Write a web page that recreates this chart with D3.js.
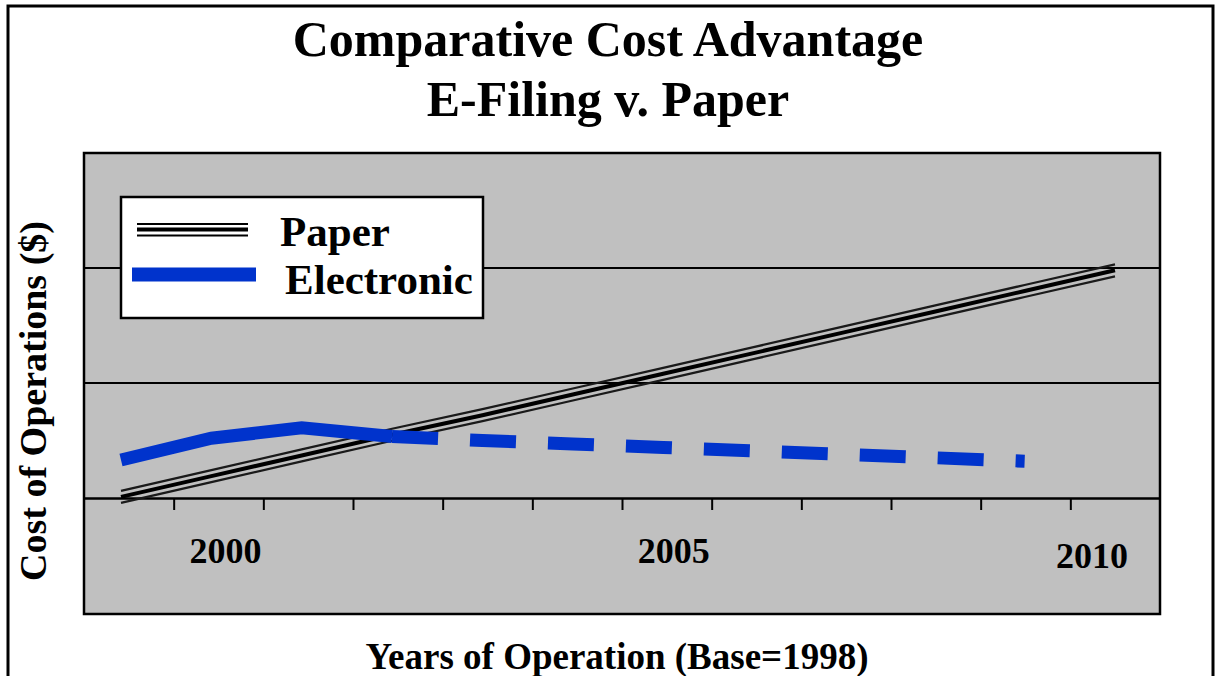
<!DOCTYPE html>
<html>
<head>
<meta charset="utf-8">
<script src="https://cdn.jsdelivr.net/npm/d3@7"></script>
<style>
  html, body { margin: 0; padding: 0; background: #ffffff; }
  svg { display: block; }
  text { font-family: "Liberation Serif", "Times New Roman", Times, serif; font-weight: bold; fill: #000; }
</style>
</head>
<body>
<svg id="chart" width="1217" height="676"></svg>
<script>
// ---------------- data ----------------
const years = [1999, 2000, 2001, 2002, 2003, 2004, 2005, 2006, 2007, 2008, 2009, 2010];
const tickLabels = ["", "2000", "", "", "", "", "2005", "", "", "", "", "2010"];
const paperValues = [0.01, 0.19, 0.37, 0.55, 0.72, 0.90, 1.08, 1.26, 1.44, 1.62, 1.80, 1.98];
const electronicYears = [1999, 2000, 2001, 2002, 2003, 2004, 2005, 2006, 2007, 2008, 2009];
const electronicValues = [0.33, 0.52, 0.61, 0.535, 0.50, 0.47, 0.44, 0.41, 0.38, 0.35, 0.32];
const electronicSolidUntil = 2002;
const seriesNames = ["Paper", "Electronic"];
const gridValues = [1, 2];
const titleLines = ["Comparative Cost Advantage", "E-Filing v. Paper"];
const xTitle = "Years of Operation (Base=1998)";
const yTitle = "Cost of Operations ($)";

// ---------------- layout ----------------
const W = 1217, H = 676;
const plot = { left: 84, right: 1160, top: 153, bottom: 614 };
const axisY0 = 498;
const blue = "#0033cc";
const grey = "#c0c0c0";

const svg = d3.select("#chart");

// outer frame
svg.append("rect")
  .attr("x", 8).attr("y", 6).attr("width", 1205).attr("height", 690)
  .attr("fill", "#fff").attr("stroke", "#000").attr("stroke-width", 3);

// title
svg.append("g").selectAll("text").data(titleLines).join("text")
  .attr("x", 608).attr("y", (d, i) => 56 + i * 60)
  .attr("text-anchor", "middle").attr("font-size", 50)
  .text(d => d);

// plot background
svg.append("rect")
  .attr("x", plot.left).attr("y", plot.top)
  .attr("width", plot.right - plot.left).attr("height", plot.bottom - plot.top)
  .attr("fill", grey).attr("stroke", "#000").attr("stroke-width", 2.5);

// scales
const y = d3.scaleLinear().domain([0, 3]).range([axisY0, plot.top]);
const xBand = d3.scaleBand().domain(years).range([plot.left, plot.right]).padding(0);
const xEdge = d3.scaleLinear().domain([0, years.length]).range([plot.left, plot.right]);
const xLine = d3.scaleLinear().domain([years[0], years[years.length - 1]]).range([121, 1115]);

// gridlines
svg.append("g").selectAll("line").data(gridValues).join("line")
  .attr("x1", plot.left).attr("x2", plot.right)
  .attr("y1", d => y(d)).attr("y2", d => y(d))
  .attr("stroke", "#000").attr("stroke-width", 2);

// x axis (line + ticks at category boundaries)
const axisG = svg.append("g").attr("transform", `translate(0,${axisY0})`)
  .call(d3.axisBottom(xEdge).tickValues(d3.range(1, years.length)).tickSize(12).tickSizeOuter(0).tickFormat(""));
axisG.select(".domain").attr("stroke", "#000").attr("stroke-width", 2.5);
axisG.selectAll(".tick line").attr("stroke", "#000").attr("stroke-width", 2);

// x tick labels (category centres)
const labG = svg.append("g").attr("transform", `translate(0,${axisY0})`)
  .call(d3.axisBottom(xBand).tickSize(0).tickFormat((d, i) => tickLabels[i]));
labG.select(".domain").remove();
labG.selectAll(".tick text")
  .attr("font-size", 36).attr("font-family", null).attr("fill", "#000")
  .attr("y", 65).attr("dy", 0).attr("dx", 7)
  .each(function () {
    const t = d3.select(this);
    const parentX = +this.parentNode.getAttribute("transform").match(/translate\(([^,]+)/)[1];
    const w = this.getComputedTextLength();
    const limit = plot.right - 32;
    if (parentX + 7 + w / 2 > limit) {
      t.attr("dx", limit - w / 2 - parentX).attr("y", 70);
    }
  });

// axis titles
svg.append("text")
  .attr("x", 617).attr("y", 669).attr("text-anchor", "middle").attr("font-size", 37)
  .text(xTitle);
svg.append("text")
  .attr("transform", "translate(46,401) rotate(-90)")
  .attr("text-anchor", "middle").attr("font-size", 38)
  .text(yTitle);

// ---------------- series ----------------
const paperData = years.map((yr, i) => ({ yr, v: paperValues[i] }));
const paperG = svg.append("g");
const strands = [
  { off: -6, w: 2.3, c: "#1a1a1a" },
  { off: 6, w: 2.3, c: "#1a1a1a" },
  { off: 0, w: 4, c: "#000" }
];
strands.forEach(s => {
  paperG.append("path").datum(paperData)
    .attr("fill", "none").attr("stroke", s.c).attr("stroke-width", s.w)
    .attr("d", d3.line().x(d => xLine(d.yr)).y(d => y(d.v) + s.off));
});

const elecData = electronicYears.map((yr, i) => ({ yr, v: electronicValues[i] }));
const eLine = d3.line().x(d => xLine(d.yr)).y(d => y(d.v));
svg.append("path").datum(elecData.filter(d => d.yr <= electronicSolidUntil))
  .attr("fill", "none").attr("stroke", blue).attr("stroke-width", 13)
  .attr("stroke-linejoin", "miter").attr("stroke-linecap", "butt")
  .attr("d", eLine);
svg.append("path").datum(elecData.filter(d => d.yr >= electronicSolidUntil))
  .attr("fill", "none").attr("stroke", blue).attr("stroke-width", 13)
  .attr("stroke-dasharray", "46,32").attr("stroke-linecap", "butt")
  .attr("d", eLine);

// ---------------- legend ----------------
const lg = svg.append("g");
lg.append("rect").attr("x", 121).attr("y", 197).attr("width", 362).attr("height", 121)
  .attr("fill", "#fff").attr("stroke", "#000").attr("stroke-width", 2.5);
[{ dy: -5.5, w: 1.8 }, { dy: 0, w: 3.8 }, { dy: 6, w: 2.2 }].forEach(s => {
  lg.append("line").attr("x1", 137).attr("x2", 248)
    .attr("y1", 229.5 + s.dy).attr("y2", 229.5 + s.dy)
    .attr("stroke", "#000").attr("stroke-width", s.w);
});
lg.append("line").attr("x1", 132).attr("x2", 256).attr("y1", 274.5).attr("y2", 274.5)
  .attr("stroke", blue).attr("stroke-width", 14);
lg.append("text").attr("x", 280).attr("y", 246).attr("font-size", 43).text(seriesNames[0]);
lg.append("text").attr("x", 285).attr("y", 294).attr("font-size", 43).text(seriesNames[1]);
</script>
</body>
</html>
